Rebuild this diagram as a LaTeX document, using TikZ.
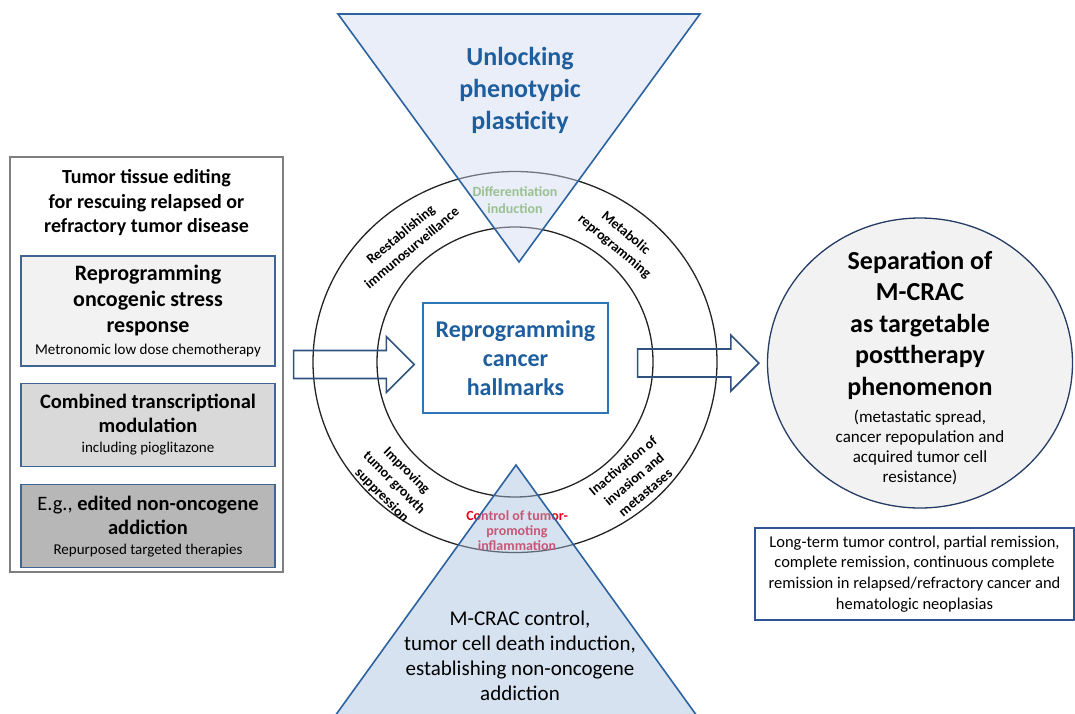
\documentclass[tikz,border=0pt]{standalone}
\usepackage{fontspec}
\setmainfont{Carlito}
\usepackage{tikz}
\usetikzlibrary{positioning,calc,shapes.geometric}

\definecolor{panelgray}{RGB}{127,127,127}
\definecolor{cureblue}{RGB}{65,100,145}
\definecolor{gray95}{RGB}{242,242,242}
\definecolor{gray85}{RGB}{217,217,217}
\definecolor{gray75}{RGB}{183,183,183}
\definecolor{ringblack}{RGB}{35,35,35}
\definecolor{plastfill}{RGB}{206,217,239}
\definecolor{cracfill}{RGB}{164,191,222}
\definecolor{wedgeblue}{RGB}{44,98,160}
\definecolor{hallblue}{RGB}{30,94,158}
\definecolor{hallframe}{RGB}{46,117,182}
\definecolor{diffgreen}{RGB}{112,173,71}
\definecolor{inflred}{RGB}{232,0,30}
\definecolor{sepnavy}{RGB}{37,60,100}
\definecolor{outblue}{RGB}{47,85,151}
\definecolor{arrowblue}{RGB}{47,82,128}

% hollow block arrow, horizontal, from #1 to tip #2
\newcommand{\fatarrow}[2]{%
  \draw[fatline] let \p1=(#1), \p2=(#2) in
    (\x1,\y1+14pt) -- (\x2-28pt,\y1+14pt) -- (\x2-28pt,\y1+28pt) -- (\x2,\y1)
    -- (\x2-28pt,\y1-28pt) -- (\x2-28pt,\y1-14pt) -- (\x1,\y1-14pt) -- cycle;}

\begin{document}
\begin{tikzpicture}[x=1pt, y=-1pt,
    every node/.style={inner sep=0pt, align=center},
    panel/.style={draw=panelgray, line width=1.3pt, minimum width=273, minimum height=415},
    cure/.style={draw=cureblue, line width=1.3pt, minimum width=254},
    ring/.style={draw=ringblack, line width=1.3pt},
    ringtext/.style={font=\fontsize{14}{17.5}\selectfont\bfseries},
    wedge/.style={draw=wedgeblue, line width=1.6pt, fill opacity=0.45},
    fatline/.style={draw=arrowblue, line width=1.6pt, line join=miter}]
  \useasboundingbox (0,0) rectangle (1075,713);

  \node[panel] (tissue) at (146.5,364.5) {};
  \node[font=\fontsize{20}{24.5}\selectfont\bfseries] (title) at (146.5,203)
    {Tumor tissue editing\\for rescuing relapsed or\\refractory tumor disease};
  \node[cure, fill=gray95, minimum height=110, font=\fontsize{22}{26}\selectfont\bfseries] (stress) at (148,311)
    {Reprogramming\\oncogenic stress\\response\\[-3.5pt]{\fontsize{15}{18}\selectfont\mdseries Metronomic low dose chemotherapy}};
  \node[cure, fill=gray85, minimum height=83, below=16pt of stress, font=\fontsize{20.5}{24}\selectfont\bfseries] (modul)
    {Combined transcriptional\\modulation\\[-4pt]{\fontsize{15}{18}\selectfont\mdseries including pioglitazone}};
  \node[cure, fill=gray75, minimum height=83, below=17pt of modul, font=\fontsize{20.5}{24}\selectfont] (addict)
    {E.g., \textbf{edited non-oncogene}\\\textbf{addiction}\\[-4pt]{\fontsize{15}{18}\selectfont Repurposed targeted therapies}};

  \coordinate (hub) at (515,362);
  \draw[ring] (hub) ellipse [x radius=202pt, y radius=190.5pt];
  \draw[ring] (hub) ellipse [x radius=138pt, y radius=135pt];

  \node[ringtext, rotate=40] (immune) at (406,241) {Reestablishing\\immunosurveillance};
  \node[ringtext, rotate=-40] (metab) at (620,240) {Metabolic\\reprogramming};
  \node[ringtext, rotate=-45] (growth) at (394,483) {Improving\\tumor growth\\suppression};
  \node[ringtext, rotate=40] (invade) at (634,479) {Inactivation of\\invasion and\\metastases};
  \node[ringtext, text=diffgreen] (differ) at (515,200) {Differentiation\\induction};
  \node[text=inflred, font=\fontsize{14}{15}\selectfont\bfseries] (inflam) at (517,531)
    {Control of tumor-\\promoting\\inflammation};

  \draw[wedge, fill=plastfill] (338,14) -- (700,14) -- (519,262) -- cycle;
  \draw[wedge, fill=cracfill] (516,465) -- (697,716) -- (335,716) -- cycle;
  \node[text=hallblue, font=\fontsize{26}{32}\selectfont\bfseries] (plastic) at (520,90)
    {Unlocking\\phenotypic\\plasticity};
  \node[font=\fontsize{21}{25}\selectfont] (mcrac) at (520,656)
    {M-CRAC control,\\tumor cell death induction,\\establishing non-oncogene\\addiction};

  \node[draw=hallframe, line width=1.3pt, minimum width=185, minimum height=110,
    text=hallblue, font=\fontsize{24}{29}\selectfont\bfseries] (hall) at (515.5,358)
    {Reprogramming\\cancer\\hallmarks};

  \node[ellipse, draw=sepnavy, fill=gray95, line width=1.3pt, minimum width=305, minimum height=290] (sep) at (920,363) {};
  \node[font=\fontsize{26}{31.5}\selectfont\bfseries] (septext) at (920,368)
    {Separation of\\M-CRAC\\as targetable\\posttherapy\\phenomenon\\[-4.5pt]%
     {\fontsize{17}{20}\selectfont\mdseries (metastatic spread,}\\[-11.5pt]%
     {\fontsize{17}{20}\selectfont\mdseries cancer repopulation and}\\[-11.5pt]%
     {\fontsize{17}{20}\selectfont\mdseries acquired tumor cell}\\[-11.5pt]%
     {\fontsize{17}{20}\selectfont\mdseries resistance)}};

  \node[draw=outblue, line width=1.3pt, minimum width=319, minimum height=92,
    font=\fontsize{16.5}{20.7}\selectfont] (outcome) at (914.5,574)
    {Long-term tumor control, partial remission,\\complete remission, continuous complete\\remission in relapsed/refractory cancer and\\hematologic neoplasias};

  \coordinate (inL) at ($(tissue.east)+(10,0)$);
  \coordinate (inR) at ($(hall.west |- tissue.east)+(-8,0)$);
  \coordinate (outL) at ($(hall.east |- sep.west)+(29,0)$);
  \coordinate (outR) at ($(sep.west)+(-8,0)$);
  \fatarrow{inL}{inR}
  \fatarrow{outL}{outR}
\end{tikzpicture}
\end{document}
